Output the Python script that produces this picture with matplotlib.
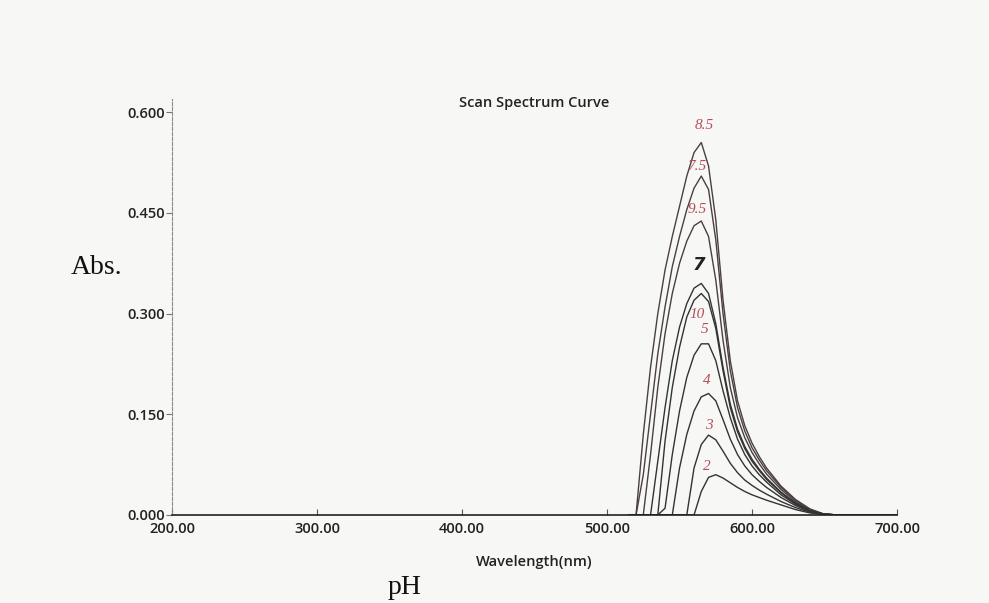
import matplotlib.pyplot as plt

# wavelength grid (nm) shared by all scans
wavelength = [515, 520, 525, 530, 535, 540, 545, 550, 555, 560, 565, 570, 575,
              580, 585, 590, 595, 600, 605, 610, 620, 630, 640, 650, 660, 700]

# absorbance per pH
abs_85 = [0, 0.0, 0.12, 0.22, 0.30, 0.365, 0.415, 0.46, 0.505, 0.54, 0.555, 0.52, 0.44,
          0.32, 0.23, 0.17, 0.133, 0.107, 0.087, 0.07, 0.043, 0.023, 0.009, 0.001, 0, 0]
abs_75 = [0, 0, 0.06, 0.15, 0.24, 0.31, 0.37, 0.415, 0.455, 0.487, 0.505, 0.485, 0.41,
          0.30, 0.215, 0.16, 0.125, 0.1, 0.082, 0.066, 0.041, 0.022, 0.008, 0.001, 0, 0]
abs_95 = [0, 0, 0.0, 0.09, 0.19, 0.27, 0.33, 0.375, 0.408, 0.431, 0.438, 0.415, 0.35,
          0.26, 0.19, 0.145, 0.115, 0.093, 0.076, 0.061, 0.038, 0.02, 0.007, 0.001, 0, 0]
abs_7 = [0, 0, 0, 0, 0.08, 0.16, 0.23, 0.28, 0.315, 0.338, 0.345, 0.33, 0.285,
         0.22, 0.165, 0.128, 0.102, 0.083, 0.068, 0.055, 0.034, 0.018, 0.006, 0.001, 0, 0]
abs_10 = [0, 0, 0, 0, 0.0, 0.11, 0.19, 0.25, 0.295, 0.32, 0.33, 0.318, 0.278,
          0.215, 0.16, 0.124, 0.099, 0.08, 0.066, 0.053, 0.033, 0.017, 0.006, 0.001, 0, 0]
abs_5 = [0, 0, 0, 0, 0, 0.01, 0.09, 0.155, 0.205, 0.238, 0.255, 0.255, 0.23,
         0.185, 0.145, 0.113, 0.09, 0.073, 0.06, 0.049, 0.03, 0.016, 0.006, 0.001, 0, 0]
abs_4 = [0, 0, 0, 0, 0, 0, 0.0, 0.07, 0.12, 0.155, 0.176, 0.181, 0.17,
         0.142, 0.113, 0.09, 0.073, 0.06, 0.05, 0.041, 0.026, 0.014, 0.005, 0.001, 0, 0]
abs_3 = [0, 0, 0, 0, 0, 0, 0, 0, 0.0, 0.07, 0.105, 0.119, 0.112,
         0.095, 0.077, 0.063, 0.052, 0.044, 0.037, 0.031, 0.02, 0.011, 0.004, 0.001, 0, 0]
abs_2 = [0, 0, 0, 0, 0, 0, 0, 0, 0, 0, 0.035, 0.056, 0.06,
         0.055, 0.048, 0.041, 0.035, 0.03, 0.026, 0.022, 0.015, 0.008, 0.003, 0.001, 0, 0]

series = [abs_85, abs_75, abs_95, abs_7, abs_10, abs_5, abs_4, abs_3, abs_2]

# pH labels and where they sit on the scan (nm, Abs)
ph_labels = ['8.5', '7.5', '9.5', '7', '10', '5', '4', '3', '2']
label_x = [567, 562, 562, 563, 562, 567, 569, 570, 569]
label_y = [0.581, 0.519, 0.455, 0.373, 0.298, 0.276, 0.201, 0.134, 0.072]

x_ticks = [200, 300, 400, 500, 600, 700]
y_ticks = [0.0, 0.15, 0.30, 0.45, 0.60]

BG = '#f7f7f5'
INK = '#333333'
PINK = '#b84c5c'
UI_FONT = ['Open Sans', 'DejaVu Sans']

fig = plt.figure(figsize=(9.89, 6.03), dpi=100, facecolor=BG)
ax = fig.add_axes([0.174, 0.146, 0.733, 0.69])
ax.set_facecolor(BG)

for i, y in enumerate(series):
    color = '#4a3f42' if i < 3 else INK
    ax.plot(wavelength, y, color=color, linewidth=1.0)

for lab, lx, ly in zip(ph_labels, label_x, label_y):
    if lab == '7':
        ax.text(lx, ly, lab, color='#222222', fontsize=13, fontweight='bold',
                family='DejaVu Sans', fontstyle='italic', ha='center', va='center')
    else:
        ax.text(lx, ly, lab, color=PINK, fontsize=11, fontstyle='italic',
                family='Liberation Serif', ha='center', va='center')

ax.set_xlim(200, 700)
ax.set_ylim(0, 0.62)
ax.set_xticks(x_ticks)
ax.set_xticklabels([f'{v:.2f}' for v in x_ticks])
ax.set_yticks(y_ticks)
ax.set_yticklabels([f'{v:.3f}' for v in y_ticks])

for s in ('top', 'right'):
    ax.spines[s].set_visible(False)
ax.spines['bottom'].set_color('#222222')
ax.spines['bottom'].set_linewidth(1.2)
ax.spines['left'].set_color('#8a8a8a')
ax.spines['left'].set_linestyle((0, (3, 1.5)))

ax.tick_params(axis='x', direction='in', length=4, pad=5, colors='#555555',
               labelcolor='#222222')
ax.tick_params(axis='y', direction='out', length=4, pad=1, colors='#777777',
               labelcolor='#222222')
for t in ax.get_xticklabels() + ax.get_yticklabels():
    t.set_family(UI_FONT)
    t.set_fontsize(10.5)
    t.set_fontweight(600)

ax.text(0.5, 0.99, 'Scan Spectrum Curve', transform=ax.transAxes, ha='center',
        va='center', fontsize=10.5, fontweight=600, family=UI_FONT, color='#222222')
ax.set_xlabel('Wavelength(nm)', fontsize=10.5, fontweight=600, family=UI_FONT,
              color='#222222', labelpad=14)

fig.text(97 / 989, 1 - 268 / 603, 'Abs.', family='Liberation Serif', fontsize=20,
         ha='center', va='center', color='#111111')
fig.text(405 / 989, 1 - 588 / 603, 'pH', family='Liberation Serif', fontsize=20,
         ha='center', va='center', color='#111111')

fig.savefig('out.png', dpi=100, facecolor=BG)
